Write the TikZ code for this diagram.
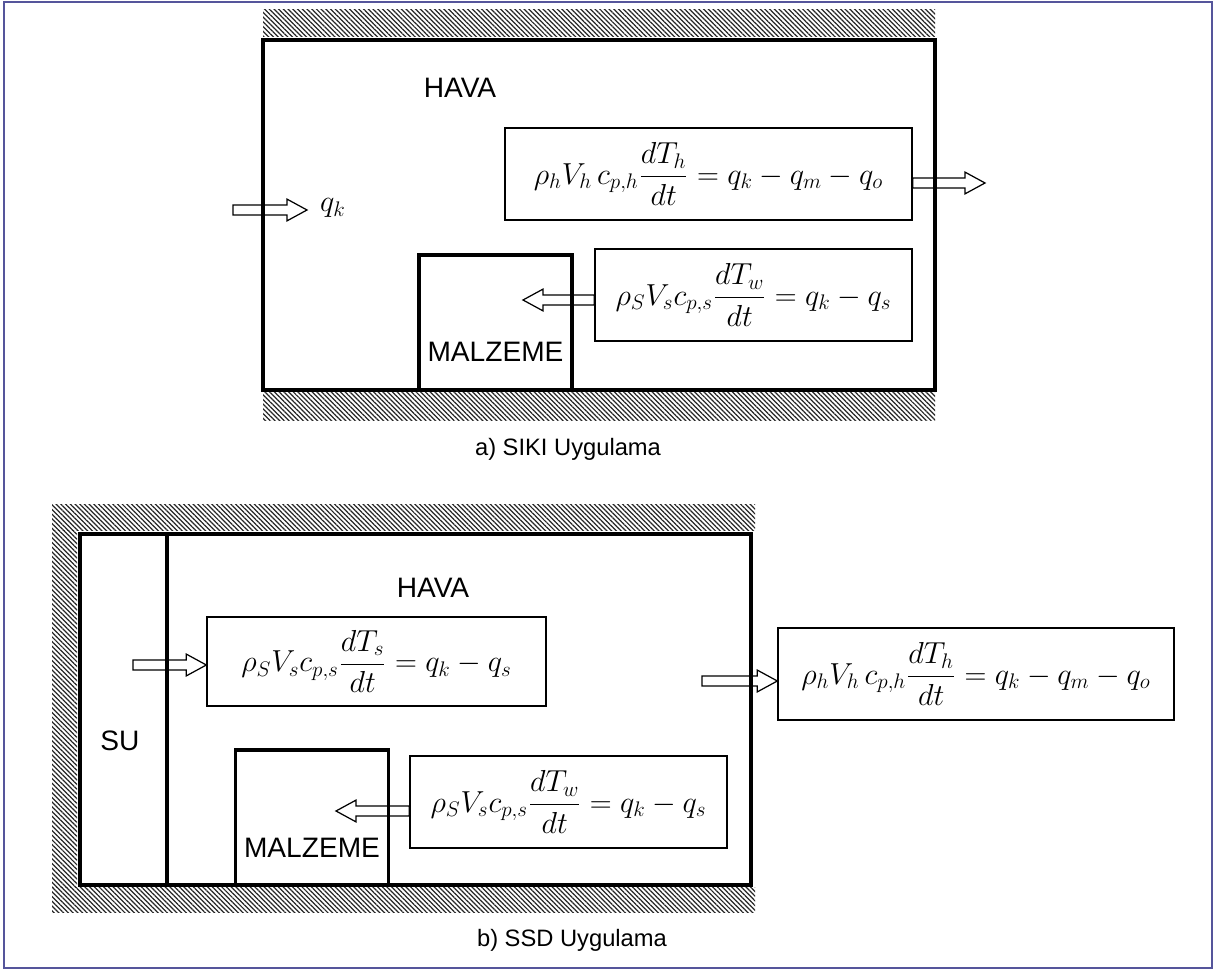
\documentclass[tikz,border=0pt]{standalone}
\usepackage{fontspec}
\setsansfont{Liberation Sans}
\usepackage{amsmath}
\usetikzlibrary{patterns.meta, calc}
\definecolor{frame-color}{RGB}{85,85,155}

% hollow block arrow between two points (horizontal)
\newcommand\hollowarrow[2]{%
  \draw[blockarrow] let \p1=#1, \p2=#2, \n1={sign(\x2-\x1)} in
    (\x1,{\y1+2.8pt}) -- ({\x2-\n1*11.4pt},{\y1+2.8pt}) -- ({\x2-\n1*11.4pt},{\y1+6.2pt})
    -- (\x2,\y1) -- ({\x2-\n1*11.4pt},{\y1-6.2pt}) -- ({\x2-\n1*11.4pt},{\y1-2.8pt})
    -- (\x1,{\y1-2.8pt}) -- cycle;}

\begin{document}
\begin{tikzpicture}[x=0.02cm, y=-0.02cm,
    wall/.style={draw=black, line width=1.8pt},
    hatch/.style={pattern={Lines[angle=-45, distance=1.9pt, line width=0.7pt]}, pattern color=black!85},
    eqbox/.style={rectangle, draw=black, line width=0.8pt, inner sep=0pt, font=\fontsize{17}{20}\selectfont},
    matbox/.style={rectangle, draw=black, line width=1.8pt, inner sep=0pt, minimum width=3.06cm, minimum height=2.7cm},
    label/.style={font=\sffamily\fontsize{16}{19}\selectfont},
    caption/.style={font=\sffamily\fontsize{13.5}{16}\selectfont},
    blockarrow/.style={draw=black, line width=0.7pt}]

    % outer frame
    \useasboundingbox (0,0) rectangle (1215,972);
    \draw[frame-color, line width=0.8pt] (4,2) rectangle (1212,968);

    % ---------------- a) SIKI ----------------
    \fill[hatch] (263,10) rectangle (935,37);
    \fill[hatch] (263,393) rectangle (935,421);
    \draw[wall] (263,40) rectangle (935,390);

    \node[label] (hava-a) at (460,88) {HAVA};

    \node[matbox] (mat-a) at (495.5,322.5) {};
    \node[label, anchor=base] (mat-a-text) at (495.5,362) {MALZEME};

    \node[eqbox, minimum width=8.14cm, minimum height=1.84cm] (eq-a1) at (708.5,174)
        {$\displaystyle \rho_h V_h\, c_{p,h}\frac{dT_h}{dt} = q_k - q_m - q_o$};
    \node[eqbox, minimum width=6.34cm, minimum height=1.84cm] (eq-a2) at (753.5,295)
        {$\displaystyle \rho_S V_s c_{p,s}\frac{dT_w}{dt} = q_k - q_s$};

    \node[font=\fontsize{17}{20}\selectfont] (qk-a) at (333,208) {$q_k$};

    % heat flow arrows
    \coordinate (in-a) at (233,210);
    \coordinate (in-a-end) at (307,210);
    \coordinate (out-a) at (985,183);
    \coordinate (mat-a-in) at (523,300);
    \hollowarrow{(in-a)}{(in-a-end)}
    \hollowarrow{($(eq-a1.east)+(0,9)$)}{(out-a)}
    \hollowarrow{($(eq-a2.west)+(0,5)$)}{(mat-a-in)}

    \node[caption] (cap-a) at (568,449) {a) SIKI Uygulama};

    % ---------------- b) SSD ----------------
    \fill[hatch] (52,505) rectangle (755,531);
    \fill[hatch] (52,531) rectangle (77,888);
    \fill[hatch] (52,888) rectangle (755,913);
    \draw[wall] (80,534) rectangle (751,885);
    \draw[wall] (167,534) -- (167,885);

    \node[label] (su) at (120,741) {SU};
    \node[label] (hava-b) at (433,588) {HAVA};

    \node[matbox] (mat-b) at (312,817.5) {};
    \node[label, anchor=base] (mat-b-text) at (312,858) {MALZEME};

    \node[eqbox, minimum width=6.78cm, minimum height=1.78cm] (eq-b1) at (376.5,661.5)
        {$\displaystyle \rho_S V_s c_{p,s}\frac{dT_s}{dt} = q_k - q_s$};
    \node[eqbox, minimum width=7.92cm, minimum height=1.84cm] (eq-b2) at (976,674)
        {$\displaystyle \rho_h V_h\, c_{p,h}\frac{dT_h}{dt} = q_k - q_m - q_o$};
    \node[eqbox, minimum width=6.34cm, minimum height=1.84cm] (eq-b3) at (568.5,802)
        {$\displaystyle \rho_S V_s c_{p,s}\frac{dT_w}{dt} = q_k - q_s$};

    % heat flow arrows
    \coordinate (in-b) at (133,665);
    \coordinate (out-b) at (702,681);
    \coordinate (mat-b-in) at (336,811);
    \hollowarrow{(in-b)}{($(eq-b1.west)+(0,3.5)$)}
    \hollowarrow{(out-b)}{($(eq-b2.west)+(0,7)$)}
    \hollowarrow{($(eq-b3.west)+(0,9)$)}{(mat-b-in)}

    \node[caption] (cap-b) at (572,940) {b) SSD Uygulama};
\end{tikzpicture}
\end{document}
